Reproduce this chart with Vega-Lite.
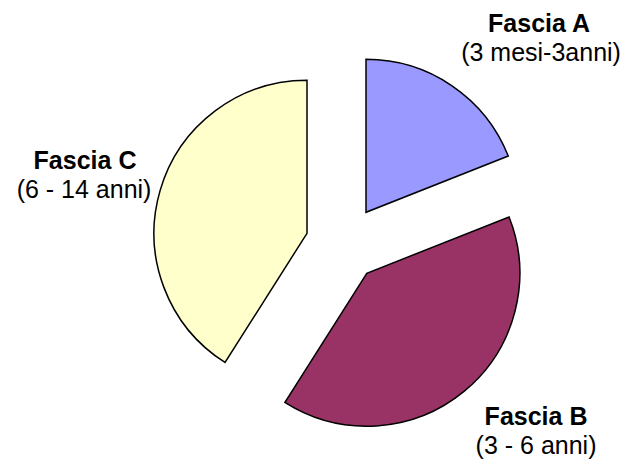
{
  "$schema": "https://vega.github.io/schema/vega-lite/v6.json",
  "width": 561,
  "height": 444,
  "autosize": {"type": "none"},
  "padding": {"left": 64, "top": 22, "right": 0, "bottom": 0},
  "background": "white",
  "view": {"stroke": null},
  "data": {
    "values": [
      {"category": "A", "value": 19, "label": "Fascia A", "sub": "(3 mesi-3anni)"},
      {"category": "B", "value": 40, "label": "Fascia B", "sub": "(3 - 6 anni)"},
      {"category": "C", "value": 41, "label": "Fascia C", "sub": "(6 - 14 anni)"}
    ]
  },
  "transform": [
    {"stack": "value", "groupby": [], "sort": [{"field": "category", "order": "ascending"}], "as": ["v0", "v1"]},
    {"calculate": "(datum.v0 + datum.v1) / 2", "as": "mid"}
  ],
  "layer": [
    {
      "transform": [{"filter": "datum.category === 'A'"}],
      "mark": {"type": "arc", "outerRadius": 153, "stroke": "black", "strokeWidth": 1.5, "xOffset": 21.5, "yOffset": -31.7},
      "encoding": {
        "theta": {"field": "v0", "type": "quantitative", "scale": {"domain": [0, 100]}},
        "theta2": {"field": "v1"},
        "color": {"field": "category", "type": "nominal", "scale": {"domain": ["A", "B", "C"], "range": ["#9999FF", "#993366", "#FFFFCC"]}, "legend": null}
      }
    },
    {
      "transform": [{"filter": "datum.category === 'B'"}],
      "mark": {"type": "arc", "outerRadius": 153, "stroke": "black", "strokeWidth": 1.5, "xOffset": 22.3, "yOffset": 29.3},
      "encoding": {
        "theta": {"field": "v0", "type": "quantitative", "scale": {"domain": [0, 100]}},
        "theta2": {"field": "v1"},
        "color": {"field": "category", "type": "nominal", "scale": {"domain": ["A", "B", "C"], "range": ["#9999FF", "#993366", "#FFFFCC"]}, "legend": null}
      }
    },
    {
      "transform": [{"filter": "datum.category === 'C'"}],
      "mark": {"type": "arc", "outerRadius": 153, "stroke": "black", "strokeWidth": 1.5, "xOffset": -37.5, "yOffset": -10.7},
      "encoding": {
        "theta": {"field": "v0", "type": "quantitative", "scale": {"domain": [0, 100]}},
        "theta2": {"field": "v1"},
        "color": {"field": "category", "type": "nominal", "scale": {"domain": ["A", "B", "C"], "range": ["#9999FF", "#993366", "#FFFFCC"]}, "legend": null}
      }
    },
    {
      "transform": [{"filter": "datum.category === 'A'"}],
      "mark": {"type": "text", "radius": 260, "dx": 48.4, "dy": 3.1, "font": "Liberation Sans", "fontSize": 25, "fontWeight": "bold", "align": "center", "baseline": "alphabetic", "color": "black"},
      "encoding": {"theta": {"field": "mid", "type": "quantitative"}, "text": {"field": "label"}}
    },
    {
      "transform": [{"filter": "datum.category === 'A'"}],
      "mark": {"type": "text", "radius": 260, "dx": 50.4, "dy": 32.1, "font": "Liberation Sans", "fontSize": 25, "align": "center", "baseline": "alphabetic", "color": "black"},
      "encoding": {"theta": {"field": "mid", "type": "quantitative"}, "text": {"field": "sub"}}
    },
    {
      "transform": [{"filter": "datum.category === 'B'"}],
      "mark": {"type": "text", "radius": 260, "dx": 25.8, "dy": -19.3, "font": "Liberation Sans", "fontSize": 25, "fontWeight": "bold", "align": "center", "baseline": "alphabetic", "color": "black"},
      "encoding": {"theta": {"field": "mid", "type": "quantitative"}, "text": {"field": "label"}}
    },
    {
      "transform": [{"filter": "datum.category === 'B'"}],
      "mark": {"type": "text", "radius": 260, "dx": 25.8, "dy": 9.7, "font": "Liberation Sans", "fontSize": 25, "align": "center", "baseline": "alphabetic", "color": "black"},
      "encoding": {"theta": {"field": "mid", "type": "quantitative"}, "text": {"field": "sub"}}
    },
    {
      "transform": [{"filter": "datum.category === 'C'"}],
      "mark": {"type": "text", "radius": 260, "dx": -9.8, "dy": -2.5, "font": "Liberation Sans", "fontSize": 25, "fontWeight": "bold", "align": "center", "baseline": "alphabetic", "color": "black"},
      "encoding": {"theta": {"field": "mid", "type": "quantitative"}, "text": {"field": "label"}}
    },
    {
      "transform": [{"filter": "datum.category === 'C'"}],
      "mark": {"type": "text", "radius": 260, "dx": -10.8, "dy": 26.5, "font": "Liberation Sans", "fontSize": 25, "align": "center", "baseline": "alphabetic", "color": "black"},
      "encoding": {"theta": {"field": "mid", "type": "quantitative"}, "text": {"field": "sub"}}
    }
  ]
}
